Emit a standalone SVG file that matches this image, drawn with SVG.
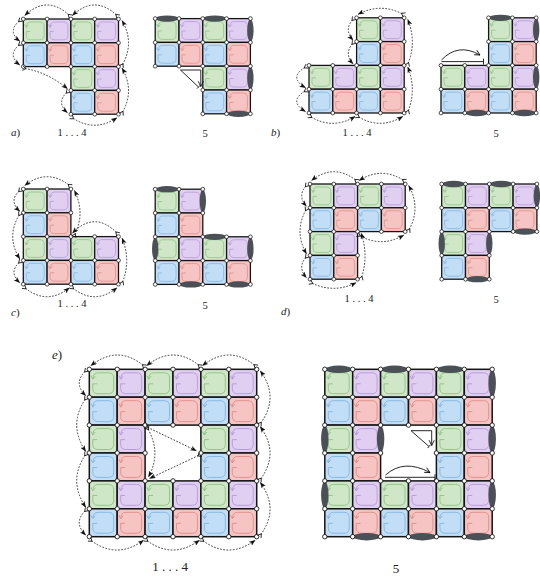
<svg xmlns="http://www.w3.org/2000/svg" width="540" height="576" viewBox="0 0 540 576">
<defs>
<style>
.dash{fill:none;stroke:#1a1a1a;stroke-width:0.85;stroke-dasharray:1.7 1.5;marker-start:url(#tl);marker-end:url(#hd)}
.sol{fill:none;stroke:#111;stroke-width:0.9}
</style>
<marker id="hd" viewBox="0 0 8 6" refX="7.5" refY="3" markerWidth="6.5" markerHeight="5" orient="auto" markerUnits="userSpaceOnUse"><path d="M0,0 L8,3 L0,6 L2,3z" fill="#111"/></marker>
<marker id="tl" viewBox="-4 -3 6 6" refX="0" refY="0" markerWidth="6" markerHeight="6" orient="auto" markerUnits="userSpaceOnUse"><path d="M1,0 L-2.5,-2.3 M1,0 L-2.5,2.3" stroke="#111" stroke-width="0.8" fill="none"/></marker>
<marker id="oh" viewBox="0 0 8 8" refX="7" refY="4" markerWidth="7" markerHeight="7" orient="auto" markerUnits="userSpaceOnUse"><path d="M1,1 L7,4 L1,7" stroke="#111" stroke-width="1" fill="none"/></marker>
<circle id="v" r="1.9" fill="#fff" stroke="#111" stroke-width="0.75"/>
<ellipse id="lh" rx="11.5" ry="3.2" fill="#4b5056"/>
<ellipse id="lv" rx="3.2" ry="11.5" fill="#4b5056"/>
<g id="cg"><rect width="24" height="24" fill="#cfe7c7"/><path fill="none" stroke="#92c589" stroke-width="0.85" stroke-linecap="round" d="M6.5 12.5H3V16.5Q3 21 7.5 21H16.5Q21 21 21 16.5V7.5Q21 3 16.5 3H7.5Q3.4 3 3.1 7.6M1.5 5.8L3.1 8.6L4.9 6.2"/><rect width="24" height="24" fill="none" stroke="#151515" stroke-width="1.3"/></g>
<g id="cp"><rect width="24" height="24" fill="#e0cff1"/><path fill="none" stroke="#b99cd9" stroke-width="0.85" stroke-linecap="round" d="M6.5 12.5H3V16.5Q3 21 7.5 21H16.5Q21 21 21 16.5V7.5Q21 3 16.5 3H7.5Q3.4 3 3.1 7.6M1.5 5.8L3.1 8.6L4.9 6.2"/><rect width="24" height="24" fill="none" stroke="#151515" stroke-width="1.3"/></g>
<g id="cb"><rect width="24" height="24" fill="#c2def6"/><path fill="none" stroke="#88b9e2" stroke-width="0.85" stroke-linecap="round" d="M6.5 12.5H3V16.5Q3 21 7.5 21H16.5Q21 21 21 16.5V7.5Q21 3 16.5 3H7.5Q3.4 3 3.1 7.6M1.5 5.8L3.1 8.6L4.9 6.2"/><rect width="24" height="24" fill="none" stroke="#151515" stroke-width="1.3"/></g>
<g id="cr"><rect width="24" height="24" fill="#f6c5c3"/><path fill="none" stroke="#df918d" stroke-width="0.85" stroke-linecap="round" d="M6.5 12.5H3V16.5Q3 21 7.5 21H16.5Q21 21 21 16.5V7.5Q21 3 16.5 3H7.5Q3.4 3 3.1 7.6M1.5 5.8L3.1 8.6L4.9 6.2"/><rect width="24" height="24" fill="none" stroke="#151515" stroke-width="1.3"/></g>
<g id="shA">
<use href="#cg" x="0" y="0"/><use href="#cp" x="24" y="0"/><use href="#cg" x="48" y="0"/><use href="#cp" x="72" y="0"/>
<use href="#cb" x="0" y="24"/><use href="#cr" x="24" y="24"/><use href="#cb" x="48" y="24"/><use href="#cr" x="72" y="24"/>
<use href="#cg" x="48" y="48"/><use href="#cp" x="72" y="48"/>
<use href="#cb" x="48" y="72"/><use href="#cr" x="72" y="72"/>
</g>
<g id="vxA">
<use href="#v" x="0" y="0"/><use href="#v" x="24" y="0"/><use href="#v" x="48" y="0"/><use href="#v" x="72" y="0"/><use href="#v" x="96" y="0"/>
<use href="#v" x="0" y="24"/><use href="#v" x="24" y="24"/><use href="#v" x="48" y="24"/><use href="#v" x="72" y="24"/><use href="#v" x="96" y="24"/>
<use href="#v" x="0" y="48"/><use href="#v" x="24" y="48"/><use href="#v" x="48" y="48"/><use href="#v" x="72" y="48"/><use href="#v" x="96" y="48"/>
<use href="#v" x="48" y="72"/><use href="#v" x="72" y="72"/><use href="#v" x="96" y="72"/>
<use href="#v" x="48" y="96"/><use href="#v" x="72" y="96"/><use href="#v" x="96" y="96"/>
</g>
<g id="shB">
<use href="#cg" x="48" y="0"/><use href="#cp" x="72" y="0"/>
<use href="#cb" x="48" y="24"/><use href="#cr" x="72" y="24"/>
<use href="#cg" x="0" y="48"/><use href="#cp" x="24" y="48"/><use href="#cg" x="48" y="48"/><use href="#cp" x="72" y="48"/>
<use href="#cb" x="0" y="72"/><use href="#cr" x="24" y="72"/><use href="#cb" x="48" y="72"/><use href="#cr" x="72" y="72"/>
</g>
<g id="vxB">
<use href="#v" x="48" y="0"/><use href="#v" x="72" y="0"/><use href="#v" x="96" y="0"/>
<use href="#v" x="48" y="24"/><use href="#v" x="72" y="24"/><use href="#v" x="96" y="24"/>
<use href="#v" x="0" y="48"/><use href="#v" x="24" y="48"/><use href="#v" x="48" y="48"/><use href="#v" x="72" y="48"/><use href="#v" x="96" y="48"/>
<use href="#v" x="0" y="72"/><use href="#v" x="24" y="72"/><use href="#v" x="48" y="72"/><use href="#v" x="72" y="72"/><use href="#v" x="96" y="72"/>
<use href="#v" x="0" y="96"/><use href="#v" x="24" y="96"/><use href="#v" x="48" y="96"/><use href="#v" x="72" y="96"/><use href="#v" x="96" y="96"/>
</g>
<g id="shC">
<use href="#cg" x="0" y="0"/><use href="#cp" x="24" y="0"/>
<use href="#cb" x="0" y="24"/><use href="#cr" x="24" y="24"/>
<use href="#cg" x="0" y="48"/><use href="#cp" x="24" y="48"/><use href="#cg" x="48" y="48"/><use href="#cp" x="72" y="48"/>
<use href="#cb" x="0" y="72"/><use href="#cr" x="24" y="72"/><use href="#cb" x="48" y="72"/><use href="#cr" x="72" y="72"/>
</g>
<g id="vxC">
<use href="#v" x="0" y="0"/><use href="#v" x="24" y="0"/><use href="#v" x="48" y="0"/>
<use href="#v" x="0" y="24"/><use href="#v" x="24" y="24"/><use href="#v" x="48" y="24"/>
<use href="#v" x="0" y="48"/><use href="#v" x="24" y="48"/><use href="#v" x="48" y="48"/><use href="#v" x="72" y="48"/><use href="#v" x="96" y="48"/>
<use href="#v" x="0" y="72"/><use href="#v" x="24" y="72"/><use href="#v" x="48" y="72"/><use href="#v" x="72" y="72"/><use href="#v" x="96" y="72"/>
<use href="#v" x="0" y="96"/><use href="#v" x="24" y="96"/><use href="#v" x="48" y="96"/><use href="#v" x="72" y="96"/><use href="#v" x="96" y="96"/>
</g>
<g id="shD">
<use href="#cg" x="0" y="0"/><use href="#cp" x="24" y="0"/><use href="#cg" x="48" y="0"/><use href="#cp" x="72" y="0"/>
<use href="#cb" x="0" y="24"/><use href="#cr" x="24" y="24"/><use href="#cb" x="48" y="24"/><use href="#cr" x="72" y="24"/>
<use href="#cg" x="0" y="48"/><use href="#cp" x="24" y="48"/>
<use href="#cb" x="0" y="72"/><use href="#cr" x="24" y="72"/>
</g>
<g id="vxD">
<use href="#v" x="0" y="0"/><use href="#v" x="24" y="0"/><use href="#v" x="48" y="0"/><use href="#v" x="72" y="0"/><use href="#v" x="96" y="0"/>
<use href="#v" x="0" y="24"/><use href="#v" x="24" y="24"/><use href="#v" x="48" y="24"/><use href="#v" x="72" y="24"/><use href="#v" x="96" y="24"/>
<use href="#v" x="0" y="48"/><use href="#v" x="24" y="48"/><use href="#v" x="48" y="48"/><use href="#v" x="72" y="48"/><use href="#v" x="96" y="48"/>
<use href="#v" x="0" y="72"/><use href="#v" x="24" y="72"/><use href="#v" x="48" y="72"/>
<use href="#v" x="0" y="96"/><use href="#v" x="24" y="96"/><use href="#v" x="48" y="96"/>
</g>
<g id="shE">
<use href="#cg" x="0" y="0"/><use href="#cp" x="24" y="0"/><use href="#cg" x="48" y="0"/><use href="#cp" x="72" y="0"/><use href="#cg" x="96" y="0"/><use href="#cp" x="120" y="0"/>
<use href="#cb" x="0" y="24"/><use href="#cr" x="24" y="24"/><use href="#cb" x="48" y="24"/><use href="#cr" x="72" y="24"/><use href="#cb" x="96" y="24"/><use href="#cr" x="120" y="24"/>
<use href="#cg" x="0" y="48"/><use href="#cp" x="24" y="48"/><use href="#cg" x="96" y="48"/><use href="#cp" x="120" y="48"/>
<use href="#cb" x="0" y="72"/><use href="#cr" x="24" y="72"/><use href="#cb" x="96" y="72"/><use href="#cr" x="120" y="72"/>
<use href="#cg" x="0" y="96"/><use href="#cp" x="24" y="96"/><use href="#cg" x="48" y="96"/><use href="#cp" x="72" y="96"/><use href="#cg" x="96" y="96"/><use href="#cp" x="120" y="96"/>
<use href="#cb" x="0" y="120"/><use href="#cr" x="24" y="120"/><use href="#cb" x="48" y="120"/><use href="#cr" x="72" y="120"/><use href="#cb" x="96" y="120"/><use href="#cr" x="120" y="120"/>
</g>
<g id="vxE">
<use href="#v" x="0" y="0"/><use href="#v" x="24" y="0"/><use href="#v" x="48" y="0"/><use href="#v" x="72" y="0"/><use href="#v" x="96" y="0"/><use href="#v" x="120" y="0"/><use href="#v" x="144" y="0"/>
<use href="#v" x="0" y="24"/><use href="#v" x="24" y="24"/><use href="#v" x="48" y="24"/><use href="#v" x="72" y="24"/><use href="#v" x="96" y="24"/><use href="#v" x="120" y="24"/><use href="#v" x="144" y="24"/>
<use href="#v" x="0" y="48"/><use href="#v" x="24" y="48"/><use href="#v" x="48" y="48"/><use href="#v" x="72" y="48"/><use href="#v" x="96" y="48"/><use href="#v" x="120" y="48"/><use href="#v" x="144" y="48"/>
<use href="#v" x="0" y="72"/><use href="#v" x="24" y="72"/><use href="#v" x="48" y="72"/><use href="#v" x="96" y="72"/><use href="#v" x="120" y="72"/><use href="#v" x="144" y="72"/>
<use href="#v" x="0" y="96"/><use href="#v" x="24" y="96"/><use href="#v" x="48" y="96"/><use href="#v" x="72" y="96"/><use href="#v" x="96" y="96"/><use href="#v" x="120" y="96"/><use href="#v" x="144" y="96"/>
<use href="#v" x="0" y="120"/><use href="#v" x="24" y="120"/><use href="#v" x="48" y="120"/><use href="#v" x="72" y="120"/><use href="#v" x="96" y="120"/><use href="#v" x="120" y="120"/><use href="#v" x="144" y="120"/>
<use href="#v" x="0" y="144"/><use href="#v" x="24" y="144"/><use href="#v" x="48" y="144"/><use href="#v" x="72" y="144"/><use href="#v" x="96" y="144"/><use href="#v" x="120" y="144"/><use href="#v" x="144" y="144"/>
</g>
</defs>
<rect width="540" height="576" fill="#fff"/>

<g id="panel-a-1to4" transform="translate(23.3,19) scale(0.99167)"><use href="#shA"/><use href="#vxA"/></g>
<g id="panel-a-5" transform="translate(155.2,18.6) scale(0.99167)"><use href="#shA"/>
<use href="#lh" x="12" y="0"/><use href="#lh" x="60" y="0"/><use href="#lv" x="96" y="12"/><use href="#lv" x="96" y="60"/><use href="#lh" x="84" y="96"/>
<use href="#vxA"/></g>

<g id="panel-b-1to4" transform="translate(309,17.8) scale(0.99167)"><use href="#shB"/><use href="#vxB"/></g>
<g id="panel-b-5" transform="translate(441,17.8) scale(0.99167)"><use href="#shB"/>
<use href="#lh" x="60" y="0"/><use href="#lv" x="96" y="12"/><use href="#lv" x="96" y="60"/><use href="#lh" x="36" y="96"/><use href="#lh" x="84" y="96"/>
<use href="#vxB"/></g>

<g id="panel-c-1to4" transform="translate(23.3,189) scale(0.99167)"><use href="#shC"/><use href="#vxC"/></g>
<g id="panel-c-5" transform="translate(155.2,189.2) scale(0.99167)"><use href="#shC"/>
<use href="#lh" x="12" y="0"/><use href="#lv" x="48" y="12"/><use href="#lv" x="0" y="60"/><use href="#lh" x="60" y="48"/><use href="#lv" x="96" y="60"/><use href="#lh" x="36" y="96"/><use href="#lh" x="84" y="96"/>
<use href="#vxC"/></g>

<g id="panel-d-1to4" transform="translate(310,184) scale(0.99167)"><use href="#shD"/><use href="#vxD"/></g>
<g id="panel-d-5" transform="translate(441.7,184) scale(0.99167)"><use href="#shD"/>
<use href="#lh" x="12" y="0"/><use href="#lh" x="60" y="0"/><use href="#lv" x="96" y="12"/><use href="#lh" x="84" y="48"/><use href="#lv" x="0" y="60"/><use href="#lv" x="48" y="60"/><use href="#lh" x="36" y="96"/>
<use href="#vxD"/></g>

<g id="panel-e-1to4" transform="translate(89.3,369.3) scale(1.1625)"><use href="#shE"/><use href="#vxE"/></g>
<g id="panel-e-5" transform="translate(324.8,369.3) scale(1.1625)"><use href="#shE"/>
<use href="#lh" x="12" y="0"/><use href="#lh" x="60" y="0"/><use href="#lh" x="108" y="0"/>
<use href="#lv" x="144" y="12"/><use href="#lv" x="144" y="60"/><use href="#lv" x="144" y="108"/>
<use href="#lh" x="36" y="144"/><use href="#lh" x="84" y="144"/><use href="#lh" x="132" y="144"/>
<use href="#lv" x="0" y="60"/><use href="#lv" x="0" y="108"/><use href="#lv" x="48" y="60"/>
<use href="#vxE"/></g>

<g id="connectors">
<path class="dash" d="M68.9,15 Q46.9,-5.3 24.8,15.5"/>
<path class="dash" d="M116.5,15 Q94.5,-5.3 72.4,15.5"/>
<path class="dash" d="M19.3,21 Q7,31.2 19.8,41.3"/>
<path class="dash" d="M19.3,44.8 Q7,55 19.8,65.1"/>
<path class="dash" d="M25,68.5 Q48,72.5 67.5,88.8"/>
<path class="dash" d="M66.9,92.4 Q56,102.5 67.4,112.7"/>
<path class="dash" d="M72.9,118.2 Q95,132.5 117,117.7"/>
<path class="dash" d="M122.5,112.2 Q134.8,90.2 122,68.1"/>
<path class="dash" d="M122.5,64.6 Q134.8,42.5 122,20.5"/>
<path class="dash" d="M402.2,13.8 Q380.2,2.5 358.1,14.3"/>
<path class="dash" d="M352.6,19.8 Q343.8,30 353.1,40.1"/>
<path class="dash" d="M352.6,43.6 Q343.8,53.8 353.1,63.9"/>
<path class="dash" d="M305,67.4 Q288.2,77.5 305.5,87.7"/>
<path class="dash" d="M305,91.2 Q288.2,101.3 305.5,111.5"/>
<path class="dash" d="M311,117 Q333,129.9 355.1,116.5"/>
<path class="dash" d="M358.6,117 Q380.6,129.9 402.7,116.5"/>
<path class="dash" d="M408.2,111 Q416.7,89 407.7,66.9"/>
<path class="dash" d="M408.2,63.4 Q416.7,41.4 407.7,19.3"/>
<path class="dash" d="M68.9,185 Q46.9,168.2 24.8,185.5"/>
<path class="dash" d="M19.3,191 Q8.5,201 19.8,211.3"/>
<path class="dash" d="M19.3,214.8 Q5.9,236.9 19.8,258.9"/>
<path class="dash" d="M19.3,262.4 Q8.5,272.5 19.8,282.7"/>
<path class="dash" d="M25.3,288.2 Q47.4,305.5 69.4,287.7"/>
<path class="dash" d="M72.9,288.2 Q95,305.5 117,287.7"/>
<path class="dash" d="M122.5,282.2 Q131.2,260.2 122,238.1"/>
<path class="dash" d="M116.5,232.6 Q94.5,210.6 72.4,233.1"/>
<path class="dash" d="M74.9,234.6 Q85.4,212.6 74.4,190.5"/>
<path class="dash" d="M355.6,180 Q333.6,163.2 311.5,180.5"/>
<path class="dash" d="M403.2,180 Q381.2,166.4 359.1,180.5"/>
<path class="dash" d="M306,186 Q297.2,196 306.5,206.3"/>
<path class="dash" d="M306,209.8 Q293.8,231.6 306.5,253.9"/>
<path class="dash" d="M306,257.4 Q297.2,267.4 306.5,277.7"/>
<path class="dash" d="M312,283.2 Q334,293.7 356.1,282.7"/>
<path class="dash" d="M361.6,277.2 Q368.7,255.2 361.1,233.1"/>
<path class="dash" d="M359.6,235.6 Q381.6,248 403.7,235.1"/>
<path class="dash" d="M409.2,229.6 Q421,207.6 408.7,185.5"/>
<path class="dash" d="M254.7,365.3 Q228.8,344.5 202.4,365.8"/>
<path class="dash" d="M198.9,365.3 Q173,344.5 146.6,365.8"/>
<path class="dash" d="M143.1,365.3 Q117.2,344.5 90.8,365.8"/>
<path class="dash" d="M85.3,371.3 Q73,383.2 85.8,395.7"/>
<path class="dash" d="M85.3,399.2 Q67.9,425.1 85.8,451.5"/>
<path class="dash" d="M85.3,455 Q67.9,480.9 85.8,507.3"/>
<path class="dash" d="M85.3,510.8 Q73,522.7 85.8,535.2"/>
<path class="dash" d="M91.3,540.7 Q117.2,559.6 143.6,540.2"/>
<path class="dash" d="M147.1,540.7 Q173,559.6 199.4,540.2"/>
<path class="dash" d="M202.9,540.7 Q228.8,559.6 255.2,540.2"/>
<path class="dash" d="M260.7,534.7 Q279.6,508.8 260.2,482.4"/>
<path class="dash" d="M260.7,478.9 Q279.6,453 260.2,426.6"/>
<path class="dash" d="M260.7,423.1 Q279.6,397.2 260.2,370.8"/>
<path class="dash" d="M147.5,427.3 L196.5,450.8"/>
<path class="dash" d="M198.5,455.5 L149.5,478.5"/>
<path class="dash" d="M148,429 Q161.5,453 148.5,477"/>
<path class="sol" d="M180.5,70 H200.8 M180.5,70 L198.5,87 M197,88.6 L200,85.4"/>
<path class="sol" d="M200.8,70 V86.5" marker-end="url(#oh)"/>
<path class="sol" d="M441.5,61.6 H483.5 M483.5,58.6 V64.6"/>
<path class="sol" d="M441.5,60 Q458,42.5 480,55" marker-end="url(#oh)"/>
<path class="sol" d="M411,430.7 H431.7 M411,430.7 L429,446.5 M427.6,448.1 L430.4,444.9"/>
<path class="sol" d="M431.7,430.7 V445.5" marker-end="url(#oh)"/>
<path class="sol" d="M385,477.3 H435 M435,474.3 V480.3"/>
<path class="sol" d="M385.5,475 Q404,458.5 430,472.5" marker-end="url(#oh)"/>
</g>

<g id="labels" font-family="'Liberation Serif','DejaVu Serif',serif" fill="#222">
<text x="11" y="136" font-size="11"><tspan font-style="italic">a</tspan>)</text>
<text x="72" y="136" font-size="10.5" text-anchor="middle">1 . . . 4</text>
<text x="205" y="137" font-size="10.5" text-anchor="middle">5</text>
<text x="271" y="136" font-size="11"><tspan font-style="italic">b</tspan>)</text>
<text x="357" y="136" font-size="10.5" text-anchor="middle">1 . . . 4</text>
<text x="496" y="137" font-size="10.5" text-anchor="middle">5</text>
<text x="11" y="316" font-size="11"><tspan font-style="italic">c</tspan>)</text>
<text x="72" y="307" font-size="10.5" text-anchor="middle">1 . . . 4</text>
<text x="205" y="309" font-size="10.5" text-anchor="middle">5</text>
<text x="281" y="315" font-size="11"><tspan font-style="italic">d</tspan>)</text>
<text x="359" y="302" font-size="10.5" text-anchor="middle">1 . . . 4</text>
<text x="496" y="303" font-size="10.5" text-anchor="middle">5</text>
<text x="52" y="359" font-size="13"><tspan font-style="italic">e</tspan>)</text>
<text x="170" y="571" font-size="13" text-anchor="middle">1 . . . 4</text>
<text x="396" y="573" font-size="13" text-anchor="middle">5</text>
</g>
</svg>
